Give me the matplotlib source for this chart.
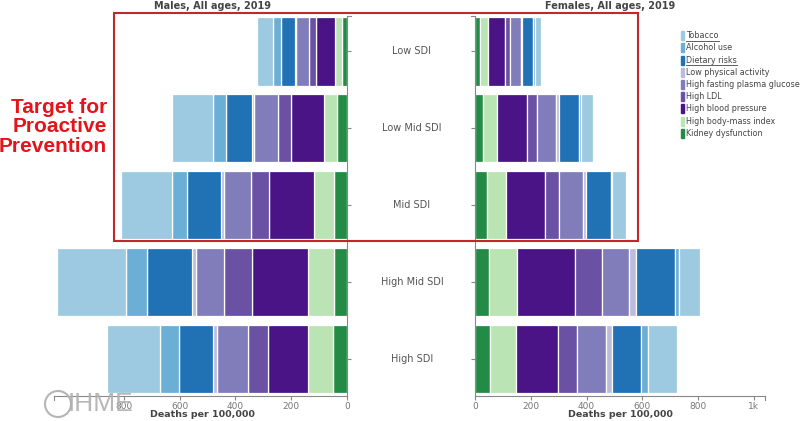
import matplotlib
matplotlib.use('Agg')
import matplotlib.pyplot as plt
import matplotlib.transforms as mtransforms
from matplotlib.patches import Rectangle, Ellipse
from matplotlib.lines import Line2D

# SDI groups, top to bottom
rows = ['Low SDI', 'Low Mid SDI', 'Mid SDI', 'High Mid SDI', 'High SDI']

# risks in stacking order, from zero outwards
risks = ['Kidney dysfunction', 'High body-mass index', 'High blood pressure',
         'High LDL', 'High fasting plasma glucose', 'Low physical activity',
         'Dietary risks', 'Alcohol use', 'Tobacco']
colors = ['#238b45', '#bae4b3', '#4a1486', '#6a51a3', '#807dba', '#bcbddc',
          '#2171b5', '#6baed6', '#9ecae1']

# deaths per 100,000, males
kidney_m = [19, 37, 47, 45, 50]
bmi_m = [25, 44, 71, 94, 89]
bp_m = [67, 121, 163, 203, 145]
ldl_m = [24, 46, 62, 98, 72]
fpg_m = [48, 85, 98, 101, 111]
lpa_m = [2, 7, 11, 13, 14]
diet_m = [50, 95, 123, 164, 122]
alc_m = [30, 46, 51, 75, 66]
tob_m = [58, 145, 184, 245, 192]

# deaths per 100,000, females
kidney_f = [17, 30, 43, 50, 55]
bmi_f = [28, 49, 69, 101, 91]
bp_f = [64, 106, 140, 206, 153]
ldl_f = [18, 37, 49, 97, 65]
fpg_f = [38, 70, 85, 99, 106]
lpa_f = [3, 9, 12, 23, 20]
diet_f = [40, 71, 88, 143, 105]
alc_f = [7, 8, 7, 12, 25]
tob_f = [20, 42, 47, 77, 106]

males = [kidney_m, bmi_m, bp_m, ldl_m, fpg_m, lpa_m, diet_m, alc_m, tob_m]
females = [kidney_f, bmi_f, bp_f, ldl_f, fpg_f, lpa_f, diet_f, alc_f, tob_f]

W, H = 800, 421
AXIS_GRAY = '#888888'
TEXT_GRAY = '#444444'


def px(x, y):
    """pixel (from top-left) to figure fraction"""
    return x / W, 1 - y / H


fig = plt.figure(figsize=(8, 4.21), dpi=100)
fig.patch.set_facecolor('white')

ax_m = fig.add_axes([54 / W, 1 - 396 / H, (347 - 54) / W, 380 / H])
ax_f = fig.add_axes([475 / W, 1 - 396 / H, (765 - 475) / W, 380 / H])

ypos = list(range(len(rows)))


def stack(ax, series):
    left = [0] * len(rows)
    for vals, col in zip(series, colors):
        ax.barh(ypos, vals, left=left, height=0.89, color=col,
                edgecolor='white', linewidth=0.9, zorder=2)
        left = [a + b for a, b in zip(left, vals)]


stack(ax_m, males)
stack(ax_f, females)

ax_m.set_xlim(1050, 0)
ax_f.set_xlim(0, 1040)
for ax in (ax_m, ax_f):
    ax.set_ylim(4.486, -0.462)
    ax.set_yticks(ypos)
    ax.set_yticklabels([])
    ax.spines['top'].set_visible(False)
    ax.tick_params(axis='x', colors=AXIS_GRAY, labelcolor='#777777',
                   labelsize=6.5, length=3, width=0.8, pad=1)
    ax.tick_params(axis='y', colors=AXIS_GRAY, length=3, width=0.8)
    for s in ax.spines.values():
        s.set_color(AXIS_GRAY)
        s.set_linewidth(0.8)

ax_m.spines['left'].set_visible(False)
ax_m.yaxis.tick_right()
ax_m.set_xticks([0, 200, 400, 600, 800])
ax_f.spines['right'].set_visible(False)
ax_f.set_xticks([0, 200, 400, 600, 800, 1000])
ax_f.set_xticklabels(['0', '200', '400', '600', '800', '1k'])

# d3-style outer ticks at the ends of the axes
cap_kw = dict(color=AXIS_GRAY, lw=0.8, clip_on=False,
              transform=fig.transFigure)
for x0, y0, x1, y1 in [(54, 396, 54, 400), (765, 396, 765, 400),
                       (347, 16, 351, 16), (475, 16, 471, 16)]:
    fig.add_artist(Line2D([x0 / W, x1 / W], [1 - y0 / H, 1 - y1 / H], **cap_kw))

# row labels in the middle
tr = mtransforms.blended_transform_factory(fig.transFigure, ax_m.transData)
for i, r in enumerate(rows):
    ax_m.text(412 / W, i, r, transform=tr, ha='center', va='center',
              fontsize=7, color='#555555', clip_on=False)

# titles and axis labels
fig.text(*px(212, 6), 'Males, All ages, 2019', ha='center', va='center',
         fontsize=7, fontweight='bold', color=TEXT_GRAY)
fig.text(*px(610, 6), 'Females, All ages, 2019', ha='center', va='center',
         fontsize=7, fontweight='bold', color=TEXT_GRAY)
fig.text(*px(202, 414.5), 'Deaths per 100,000', ha='center', va='center',
         fontsize=6.8, fontweight='bold', color=TEXT_GRAY)
fig.text(*px(620, 414.5), 'Deaths per 100,000', ha='center', va='center',
         fontsize=6.8, fontweight='bold', color=TEXT_GRAY)

# legend, drawn by hand (top entry = outermost segment)
legend_names = risks[::-1]
legend_cols = colors[::-1]
fig.canvas.draw()
renderer = fig.canvas.get_renderer()
for i, (name, col) in enumerate(zip(legend_names, legend_cols)):
    yc = 35.7 + 12.2 * i
    fig.add_artist(Rectangle(px(681, yc + 4.5), 2.5 / W, 9 / H,
                             transform=fig.transFigure, color=col,
                             clip_on=False))
    t = fig.text(*px(686, yc), name, ha='left', va='center', fontsize=5.8,
                 color=TEXT_GRAY)
    if name in ('Tobacco', 'Dietary risks'):
        bb = t.get_window_extent(renderer)
        uy = 1 - (yc + 5) / H
        fig.add_artist(Line2D([bb.x0 / W, bb.x1 / W], [uy, uy], lw=0.6,
                              color=TEXT_GRAY, transform=fig.transFigure))

# red highlight box and annotation
x0, y0 = px(114, 241)
x1, y1 = px(638, 13)
fig.add_artist(Rectangle((x0, y0), x1 - x0, y1 - y0, transform=fig.transFigure,
                         fill=False, edgecolor='#c0282d', linewidth=1.5,
                         zorder=10))
fig.text(*px(107, 127), 'Target for\nProactive\nPrevention', ha='right',
         va='center', fontsize=15, fontweight='bold', color='#e3151b',
         family=['Liberation Sans', 'DejaVu Sans'], linespacing=1.05)

# IHME watermark
fig.add_artist(Ellipse(px(58, 404), 26 / W, 26 / H, transform=fig.transFigure,
                       fill=False, edgecolor='#b5b5b5', linewidth=1.5,
                       zorder=11))
fig.text(*px(100, 404), 'IHME', ha='center', va='center', fontsize=19,
         color='#b0b0b0', alpha=0.9, zorder=11,
         family=['Liberation Sans', 'DejaVu Sans'])

fig.savefig('out.png', dpi=100)
